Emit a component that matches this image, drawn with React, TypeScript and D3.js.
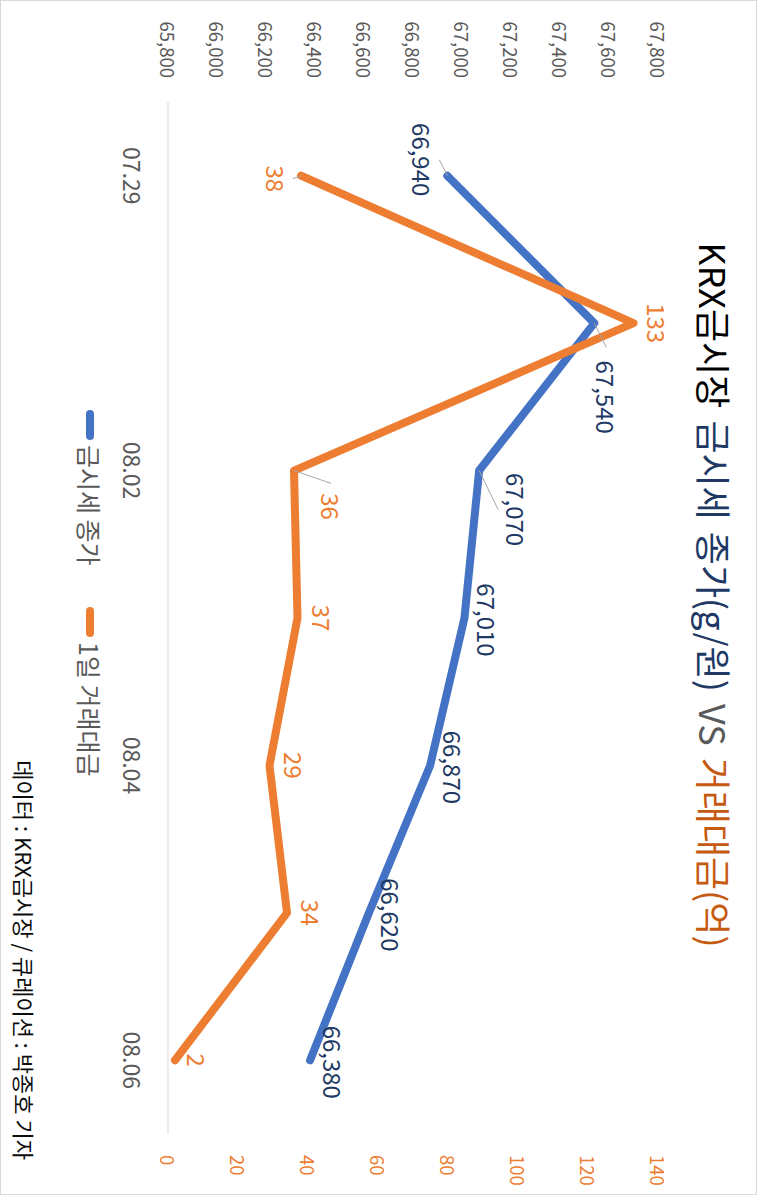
import React, { useEffect, useRef } from 'react';
import * as d3 from 'd3';

// chart data
const dates = ['07.29', '07.30', '08.02', '08.03', '08.04', '08.05', '08.06'];
const shownDates = ['07.29', '08.02', '08.04', '08.06'];
const goldPrice = [66940, 67540, 67070, 67010, 66870, 66620, 66380];
const tradeAmount = [38, 133, 36, 37, 29, 34, 2];
const priceTicks = [65800, 66000, 66200, 66400, 66600, 66800, 67000, 67200, 67400, 67600, 67800];
const amountTicks = [0, 20, 40, 60, 80, 100, 120, 140];

// label offsets (in the unrotated chart) for labels that were dragged in the original
const priceLabelPos = [
    { dx: -16, dy: 25, leader: 'top' },
    { dx: 74, dy: -12, leader: 'left' },
    { dx: 39, dy: -37, leader: 'bottom' },
    { dx: 2, dy: -23, leader: null },
    { dx: 2, dy: -23, leader: null },
    { dx: 2, dy: -23, leader: null },
    { dx: 2, dy: -23, leader: null },
];
const amountLabelPos = [
    { dx: 3, dy: 25, leader: 'top' },
    { dx: 0, dy: -24, leader: null },
    { dx: 36, dy: -37, leader: 'left' },
    { dx: 0, dy: -25, leader: null },
    { dx: 0, dy: -25, leader: null },
    { dx: 0, dy: -24, leader: null },
    { dx: 0, dy: -22, leader: null },
];

const BLUE = '#4472C4';
const ORANGE = '#ED7D31';
const FONT = '"Noto Sans CJK KR", "Noto Sans", sans-serif';

const App = () => {
    const svgRef = useRef<SVGSVGElement>(null);

    // the chart is drawn landscape and turned a quarter clockwise
    const W = 1195;
    const H = 757;
    const margin = { top: 99, right: 61, bottom: 168, left: 102 };

    useEffect(() => {
        const svg = d3.select(svgRef.current);
        svg.selectAll('*').remove();

        svg.append('rect')
            .attr('x', 0.5).attr('y', 0.5)
            .attr('width', H - 1).attr('height', W - 1)
            .attr('fill', '#fff')
            .attr('stroke', '#D9D9D9');

        const g = svg.append('g')
            .attr('transform', `translate(${H},0) rotate(90)`)
            .style('font-family', FONT);

        const x = d3.scalePoint<string>()
            .domain(dates)
            .range([margin.left, W - margin.right])
            .padding(0.5);

        const yPrice = d3.scaleLinear()
            .domain([65800, 67800])
            .range([H - margin.bottom, margin.top]);

        const yAmount = d3.scaleLinear()
            .domain([0, 140])
            .range([H - margin.bottom, margin.top]);

        // title
        const title = g.append('text')
            .attr('x', 595)
            .attr('y', 58)
            .attr('text-anchor', 'middle')
            .attr('font-size', 36)
            .attr('word-spacing', 4);
        title.append('tspan').attr('fill', '#000').text('KRX금시장 ');
        title.append('tspan').attr('fill', '#203864').text('금시세 종가(g/원) ');
        title.append('tspan').attr('fill', '#595959').text('VS ');
        title.append('tspan').attr('fill', '#C55A11').text('거래대금(억)');

        // category axis line
        g.append('line')
            .attr('x1', margin.left).attr('x2', W - margin.right)
            .attr('y1', H - margin.bottom).attr('y2', H - margin.bottom)
            .attr('stroke', '#D9D9D9')
            .attr('stroke-width', 1);

        g.selectAll('.cat')
            .data(shownDates)
            .join('text')
            .attr('x', d => x(d) as number)
            .attr('y', H - margin.bottom + 35)
            .attr('text-anchor', 'middle')
            .attr('dominant-baseline', 'central')
            .attr('font-size', 23)
            .attr('fill', '#595959')
            .text(d => d);

        // left axis (price)
        g.selectAll('.ptick')
            .data(priceTicks)
            .join('text')
            .attr('x', 78)
            .attr('y', d => yPrice(d))
            .attr('text-anchor', 'end')
            .attr('dominant-baseline', 'central')
            .attr('font-size', 18.5)
            .attr('fill', '#595959')
            .text(d => d3.format(',')(d));

        // right axis (amount)
        g.selectAll('.atick')
            .data(amountTicks)
            .join('text')
            .attr('x', 1155)
            .attr('y', d => yAmount(d))
            .attr('text-anchor', 'start')
            .attr('dominant-baseline', 'central')
            .attr('font-size', 18.5)
            .attr('fill', ORANGE)
            .text(d => d);

        // lines, secondary series on top
        const priceLine = d3.line<number>()
            .x((d, i) => x(dates[i]) as number)
            .y(d => yPrice(d));

        const amountLine = d3.line<number>()
            .x((d, i) => x(dates[i]) as number)
            .y(d => yAmount(d));

        g.append('path')
            .datum(goldPrice)
            .attr('d', priceLine)
            .attr('fill', 'none')
            .attr('stroke', BLUE)
            .attr('stroke-width', 8)
            .attr('stroke-linejoin', 'round')
            .attr('stroke-linecap', 'round');

        g.append('path')
            .datum(tradeAmount)
            .attr('d', amountLine)
            .attr('fill', 'none')
            .attr('stroke', ORANGE)
            .attr('stroke-width', 8)
            .attr('stroke-linejoin', 'round')
            .attr('stroke-linecap', 'round');

        // data labels
        const drawLabels = (values: number[], scale: d3.ScaleLinear<number, number>, pos: any[], color: string, fmt: (v: number) => string) => {
            values.forEach((v, i) => {
                const px = x(dates[i]) as number;
                const py = scale(v);
                const lx = px + pos[i].dx;
                const ly = py + pos[i].dy;
                const label = fmt(v);
                const halfW = label.length * 0.55 * 24 / 2;
                if (pos[i].leader) {
                    let ex = lx;
                    let ey = ly;
                    if (pos[i].leader === 'top') ey = ly - 17;
                    if (pos[i].leader === 'bottom') ey = ly + 18;
                    if (pos[i].leader === 'left') ex = lx - halfW - 10;
                    g.append('polyline')
                        .attr('points', `${px},${py} ${ex},${ey}`)
                        .attr('fill', 'none')
                        .attr('stroke', '#A6A6A6')
                        .attr('stroke-width', 1);
                }
                g.append('text')
                    .attr('x', lx)
                    .attr('y', ly)
                    .attr('text-anchor', 'middle')
                    .attr('dominant-baseline', 'central')
                    .attr('font-size', 24)
                    .attr('fill', color)
                    .text(label);
            });
        };

        drawLabels(goldPrice, yPrice, priceLabelPos, '#203864', d3.format(','));
        drawLabels(tradeAmount, yAmount, amountLabelPos, ORANGE, v => String(v));

        // legend
        const legend = [
            { name: '금시세 종가', color: BLUE, x: 414 },
            { name: '1일 거래대금', color: ORANGE, x: 611 },
        ];
        legend.forEach(l => {
            g.append('line')
                .attr('x1', l.x).attr('x2', l.x + 22)
                .attr('y1', 667).attr('y2', 667)
                .attr('stroke', l.color)
                .attr('stroke-width', 8)
                .attr('stroke-linecap', 'round');
            g.append('text')
                .attr('x', l.x + 31)
                .attr('y', 667)
                .attr('dominant-baseline', 'central')
                .attr('font-size', 25)
                .attr('fill', '#595959')
                .text(l.name);
        });

        // source
        g.append('text')
            .attr('x', 1160)
            .attr('y', 732)
            .attr('text-anchor', 'end')
            .attr('dominant-baseline', 'central')
            .attr('font-size', 22)
            .attr('fill', '#0D0D0D')
            .text('데이터 : KRX금시장 / 큐레이션 : 박종호 기자');
    }, []);

    return (
        <svg
            ref={svgRef}
            width={H}
            height={W}
            style={{ position: 'absolute', left: 0, top: 0, background: '#fff' }}
        />
    );
};

export default App;
